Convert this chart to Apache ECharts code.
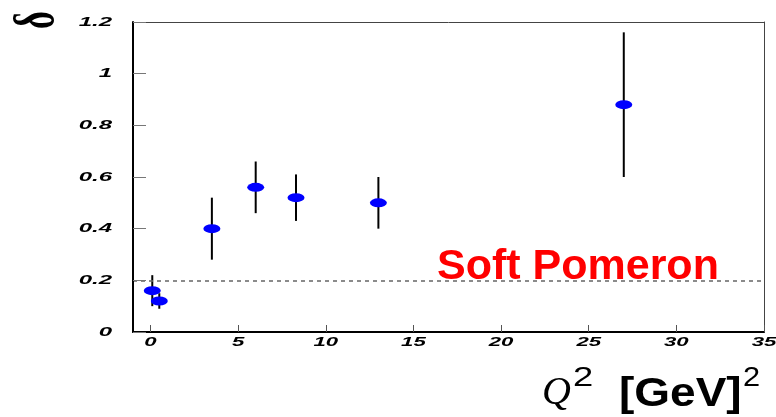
<!DOCTYPE html>
<html>
<head>
<meta charset="utf-8">
<script src="https://cdn.jsdelivr.net/npm/echarts@6/dist/echarts.min.js"></script>
<style>
html,body{margin:0;padding:0;background:#fff;}
#main{width:776px;height:417px;}
</style>
</head>
<body>
<div id="main"></div>
<script>
// ---- data ----
const q2Values   = [0.1, 0.5, 3.5, 6.0, 8.3, 13.0, 27.0];
const deltaValues = [0.16, 0.12, 0.40, 0.56, 0.52, 0.50, 0.88];
const deltaLow   = [0.10, 0.09, 0.28, 0.46, 0.43, 0.40, 0.60];
const deltaHigh  = [0.22, 0.15, 0.52, 0.66, 0.61, 0.60, 1.16];
const softPomeronValue = 0.2;
const xTickValues = [0, 5, 10, 15, 20, 25, 30, 35];
const xTickLabels = ['0', '5', '10', '15', '20', '25', '30', '35'];
const yTickValues = [0, 0.2, 0.4, 0.6, 0.8, 1.0, 1.2];
const yTickLabels = ['0', '0.2', '0.4', '0.6', '0.8', '1', '1.2'];

const chart = echarts.init(document.getElementById('main'), null, {renderer: 'canvas'});

const frameAxis = {
  axisLine: {show: true, onZero: false, lineStyle: {color: '#444', width: 1}},
  axisTick: {show: false}, axisLabel: {show: false}, splitLine: {show: false}
};

const option = {
  animation: false,
  backgroundColor: '#fff',
  grid: {left: 133, right: 12, top: 22, bottom: 85, show: false},
  xAxis: [{
    type: 'value', min: -1, max: 35, position: 'bottom', z: 5,
    axisLine: {show: true, onZero: false, lineStyle: {color: '#000', width: 2}},
    axisTick: {show: true, inside: true, length: 7, customValues: xTickValues, lineStyle: {color: '#555', width: 1}},
    axisLabel: {show: false},
    splitLine: {show: false}
  }, Object.assign({type: 'value', min: -1, max: 35, position: 'top'}, frameAxis)],
  yAxis: [{
    type: 'value', min: 0, max: 1.2, interval: 0.2, position: 'left', z: 5,
    axisLine: {show: true, onZero: false, lineStyle: {color: '#000', width: 2}},
    axisTick: {show: true, inside: true, length: 13, lineStyle: {color: '#777', width: 1}},
    axisLabel: {show: false},
    splitLine: {show: false}
  }, Object.assign({type: 'value', min: 0, max: 1.2, interval: 0.2, position: 'right'}, frameAxis)],
  series: [
    {
      type: 'custom',
      z: 2,
      data: q2Values.map((x, i) => [x, deltaLow[i], deltaHigh[i]]),
      encode: {x: 0, y: [1, 2]},
      renderItem: function (params, api) {
        const x = api.value(0);
        const lo = api.coord([x, api.value(1)]);
        const hi = api.coord([x, api.value(2)]);
        return {
          type: 'line',
          shape: {x1: lo[0], y1: lo[1], x2: hi[0], y2: hi[1]},
          style: {stroke: '#000', lineWidth: 2}
        };
      }
    },
    {
      type: 'scatter',
      z: 3,
      symbol: 'circle',
      symbolSize: [17, 9],
      itemStyle: {color: '#0000ff', opacity: 1},
      data: q2Values.map((x, i) => [x, deltaValues[i]]),
      markLine: {
        silent: true,
        symbol: 'none',
        label: {show: false},
        lineStyle: {color: '#666', type: [4, 4], width: 1.5},
        data: [{yAxis: softPomeronValue}]
      }
    }
  ]
};
chart.setOption(option);

// tick labels as text, positioned through the axes
const graphics = [];
const tickFont = 'italic bold 12px "Liberation Sans", Arial, sans-serif';
xTickValues.forEach((v, i) => {
  const p = chart.convertToPixel({gridIndex: 0}, [v, 0]);
  graphics.push({
    type: 'text', x: p[0], y: p[1] + 11, scaleX: 1.85,
    style: {text: xTickLabels[i], font: tickFont, fill: '#000', align: 'center', verticalAlign: 'middle'}
  });
});
yTickValues.forEach((v, i) => {
  const p = chart.convertToPixel({gridIndex: 0}, [-1, v]);
  graphics.push({
    type: 'text', x: 112, y: p[1] + 0.5, scaleX: 2.0,
    style: {text: yTickLabels[i], font: tickFont, fill: '#000', align: 'right', verticalAlign: 'middle'}
  });
});
// y axis title (delta, rotated)
graphics.push({
  type: 'text', x: 38, y: 20, rotation: Math.PI / 2, scaleX: 0.95, scaleY: 1.6,
  style: {text: 'δ', font: 'bold 36px "Liberation Serif", serif', fill: '#000', align: 'center', verticalAlign: 'middle'}
});
// annotation
graphics.push({
  type: 'text', x: 437, y: 267,
  style: {text: 'Soft Pomeron', font: 'bold 43px "Liberation Sans", Arial, sans-serif', fill: '#ff0000', align: 'left', verticalAlign: 'middle'}
});
// x axis title
graphics.push({
  type: 'text', x: 542, y: 393,
  style: {text: 'Q', font: 'italic 40px "Liberation Serif", serif', fill: '#000', align: 'left', verticalAlign: 'middle'}
});
graphics.push({
  type: 'text', x: 573, y: 378, scaleX: 1.3,
  style: {text: '2', font: '28px "Liberation Sans", Arial, sans-serif', fill: '#000', align: 'left', verticalAlign: 'middle'}
});
graphics.push({
  type: 'text', x: 619, y: 395, scaleX: 1.15,
  style: {text: '[GeV]', font: 'bold 40px "Liberation Sans", Arial, sans-serif', fill: '#000', align: 'left', verticalAlign: 'middle'}
});
graphics.push({
  type: 'text', x: 743, y: 378, scaleX: 1.1,
  style: {text: '2', font: '28px "Liberation Sans", Arial, sans-serif', fill: '#000', align: 'left', verticalAlign: 'middle'}
});
chart.setOption({graphic: graphics});
</script>
</body>
</html>
